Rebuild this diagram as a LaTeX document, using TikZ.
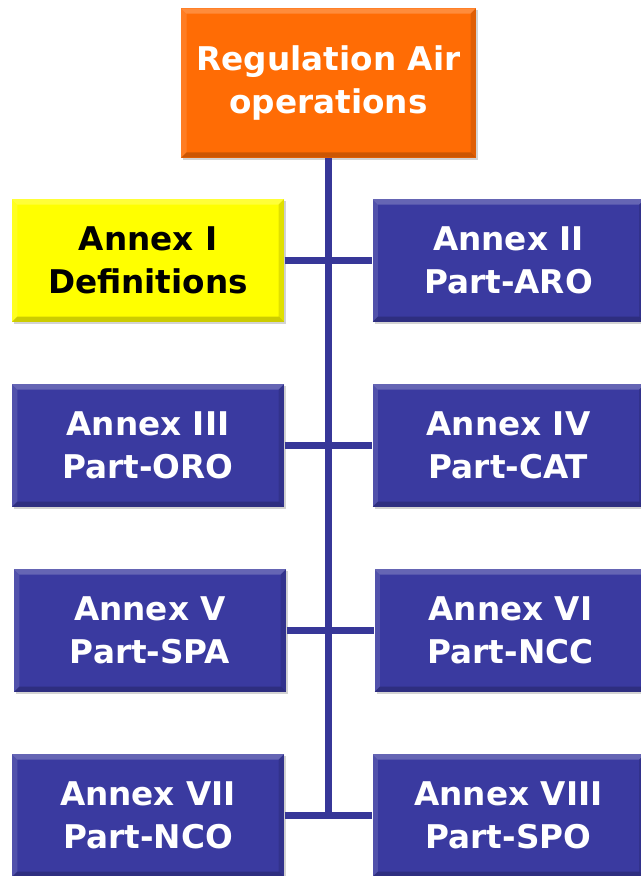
\documentclass[tikz,border=0pt]{standalone}
\usepackage{fontspec}
\setmainfont{DejaVu Sans}
\usetikzlibrary{shadows}

\definecolor{regorange}{RGB}{255,108,5}
\definecolor{annexblue}{RGB}{58,58,160}
\definecolor{annexyellow}{RGB}{255,255,0}
\definecolor{trunkblue}{RGB}{55,55,152}

\tikzset{every picture/.style={line width=0.75pt}}
\tikzset{
  bevel/.style={path picture={
    \fill[white,opacity=0.22] (path picture bounding box.north west) -- (path picture bounding box.north east) -- ([xshift=-4pt,yshift=-4pt]path picture bounding box.north east) -- ([xshift=4pt,yshift=-4pt]path picture bounding box.north west) -- cycle;
    \fill[white,opacity=0.12] (path picture bounding box.north west) -- ([xshift=4pt,yshift=-4pt]path picture bounding box.north west) -- ([xshift=4pt,yshift=4pt]path picture bounding box.south west) -- (path picture bounding box.south west) -- cycle;
    \fill[black,opacity=0.12] (path picture bounding box.north east) -- ([xshift=-4pt,yshift=-4pt]path picture bounding box.north east) -- ([xshift=-4pt,yshift=4pt]path picture bounding box.south east) -- (path picture bounding box.south east) -- cycle;
    \fill[black,opacity=0.2] (path picture bounding box.south west) -- ([xshift=4pt,yshift=4pt]path picture bounding box.south west) -- ([xshift=-4pt,yshift=4pt]path picture bounding box.south east) -- (path picture bounding box.south east) -- cycle;
  }},
  annexbox/.style={rectangle, bevel, fill=annexblue, text=white, align=center, inner sep=0pt,
    minimum width=204pt, minimum height=92pt, font=\bfseries\fontsize{24.5}{32}\selectfont,
    drop shadow={shadow xshift=1.5pt, shadow yshift=-1.5pt, opacity=0.35}},
  defbox/.style={annexbox, fill=annexyellow, text=black},
  topbox/.style={annexbox, fill=regorange, minimum width=221pt, minimum height=112pt},
  trunk/.style={draw=trunkblue, line width=5pt}
}

\begin{document}
\begin{tikzpicture}[x=0.75pt,y=0.75pt,yscale=-1,xscale=1]
\clip (0,0) rectangle (641,876);
\useasboundingbox (0,0) rectangle (641,876);

% Regulation box
\node [topbox] (reg) at (328.5,83) {Regulation Air\\operations};

% Annexes
\node [defbox] (a1) at (148,260.5) {Annex I\\Definitions};
\node [annexbox] (a2) at (508.5,260.5) {Annex II\\Part-ARO};
\node [annexbox] (a3) at (148,445.5) {Annex III\\Part-ORO};
\node [annexbox] (a4) at (508.5,445.5) {Annex IV\\Part-CAT};
\node [annexbox] (a5) at (150,630.5) {Annex V\\Part-SPA};
\node [annexbox] (a6) at (510.5,630.5) {Annex VI\\Part-NCC};
\node [annexbox] (a7) at (148,815.5) {Annex VII\\Part-NCO};
\node [annexbox] (a8) at (508.5,815.5) {Annex VIII\\Part-SPO};

% Connectors
\coordinate (foot) at (328.5,815);
\draw [trunk] (reg.south) -- (foot);
\draw [trunk] (a1.east) -- (a2.west);
\draw [trunk] (a3.east) -- (a4.west);
\draw [trunk] (a5.east) -- (a6.west);
\draw [trunk] (a7.east) -- (a8.west);

\end{tikzpicture}
\end{document}
